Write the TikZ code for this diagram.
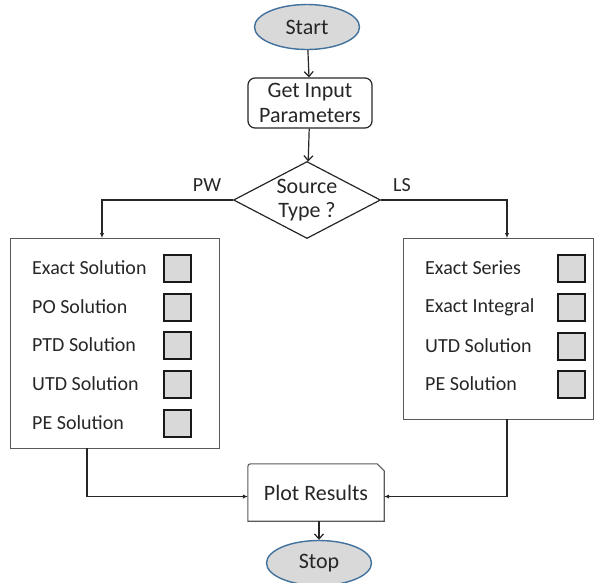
\documentclass[tikz,border=0pt]{standalone}
\usepackage{fontspec}
\setmainfont{Carlito}
\usetikzlibrary{shapes.geometric,arrows.meta}
\definecolor{ellfill}{HTML}{D9D9D9}
\definecolor{ellline}{HTML}{41719C}
\definecolor{sqfill}{HTML}{D9D9D9}
\definecolor{lineclr}{HTML}{262626}
\definecolor{boxclr}{HTML}{595959}
\begin{document}
\begin{tikzpicture}[x=1pt,y=-1pt,
  term/.style={ellipse, draw=ellline, fill=ellfill, line width=1.4pt, minimum width=105pt, minimum height=45pt, inner sep=0pt, font=\fontsize{22}{25}\selectfont, text=black!85},
  proc/.style={draw=lineclr, line width=1.2pt, rounded corners=7pt, minimum width=124pt, minimum height=50pt, inner sep=0pt, align=center, font=\fontsize{22}{25}\selectfont, text=black!85},
  dec/.style={diamond, draw=lineclr, line width=1.2pt, minimum width=147pt, minimum height=77pt, inner sep=0pt},
  dectext/.style={align=center, inner sep=0pt, font=\fontsize{22}{24}\selectfont, text=black!85},
  panel/.style={draw=boxclr, line width=0.9pt, inner sep=0pt},
  item/.style={anchor=west, inner sep=0pt, font=\fontsize{20}{24}\selectfont, text=black!85},
  sq/.style={draw=black!90, fill=sqfill, line width=2pt, minimum width=27pt, minimum height=27pt, inner sep=0pt},
  lbl/.style={inner sep=0pt, font=\fontsize{20}{24}\selectfont, text=black!85},
  conn/.style={draw=lineclr, line width=1.2pt},
  barb/.style={conn, -{Straight Barb[length=5pt,width=9pt]}},
  tri/.style={conn, -{Latex[length=5pt,width=4.5pt]}}
]
\useasboundingbox (0,0) rectangle (594,582);

% flow nodes
\node[term] (start) at (307,27) {Start};
\node[proc] (input) at (310,103) {Get Input\\Parameters};
\node[dec] (src) at (307,200) {};
\node[dectext] (srct) at (307,200) {Source\\Type ?};
\node[lbl] (pw) at (207,185) {PW};
\node[lbl] (ls) at (402,185) {LS};

% panels
\node[panel, minimum width=209pt, minimum height=210pt] (lbox) at (114.5,343) {};
\node[panel, minimum width=190pt, minimum height=181pt] (rbox) at (498,328.5) {};

% left items
\node[item] (l1) at (32,268) {Exact Solution};
\node[item] (l2) at (32,307) {PO Solution};
\node[item] (l3) at (32,345) {PTD Solution};
\node[item] (l4) at (32,384) {UTD Solution};
\node[item] (l5) at (32,423) {PE Solution};
\node[sq] (ls1) at (177,268) {};
\node[sq] (ls2) at (177,307) {};
\node[sq] (ls3) at (177,345) {};
\node[sq] (ls4) at (177,384) {};
\node[sq] (ls5) at (177,423) {};

% right items
\node[item] (r1) at (425,268) {Exact Series};
\node[item] (r2) at (425,307) {Exact Integral};
\node[item] (r3) at (425,346) {UTD Solution};
\node[item] (r4) at (425,384) {PE Solution};
\node[sq] (rs1) at (571,268) {};
\node[sq] (rs2) at (571,307) {};
\node[sq] (rs3) at (571,346) {};
\node[sq] (rs4) at (571,384) {};

% plot results
\node[inner sep=0pt, minimum width=136pt, minimum height=57pt, font=\fontsize{22}{25}\selectfont, text=black!85] (plot) at (316,492.5) {Plot Results};
\draw[draw=boxclr, line width=1.1pt] (plot.south west) -- ([yshift=-6pt]plot.north west)
  .. controls (plot.north west) .. ([xshift=6pt]plot.north west)
  -- ([xshift=-7pt]plot.north east) -- ([yshift=-7pt]plot.north east)
  -- (plot.south east) -- cycle;

\node[term] (stop) at (319,563) {Stop};

% connector end points
\coordinate (lin) at (102,238);
\coordinate (rin) at (507,238);
\coordinate (lout) at (87,448);
\coordinate (rout) at (507,419);

% connectors
\draw[barb] (start) -- (input);
\draw[barb] (input) -- (src);
\draw[tri] (src.west) -| (lin);
\draw[tri] (src.east) -| (rin);
\draw[tri] (lout) |- ([yshift=-4pt]plot.west);
\draw[tri] (rout) |- ([yshift=-4pt]plot.east);
\draw[barb] (plot.south -| stop) -- (stop);
\end{tikzpicture}
\end{document}
